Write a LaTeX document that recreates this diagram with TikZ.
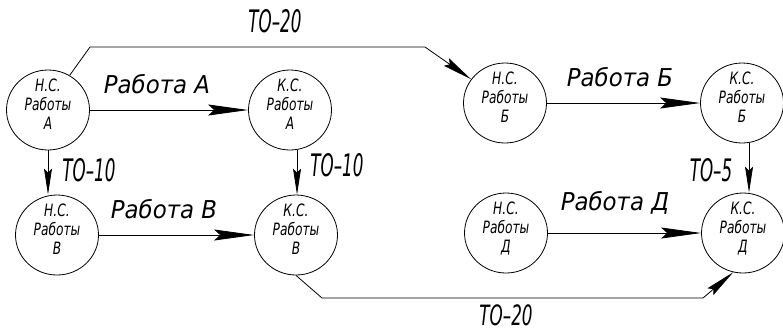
\documentclass[tikz,border=0pt]{standalone}
\usepackage{fontspec}
\setmainfont{DejaVu Sans}
\usetikzlibrary{arrows.meta,shapes.geometric,calc}
\newcommand\intext[3]{\scalebox{0.72}[1]{\fontsize{17}{19}\selectfont\itshape\begin{tabular}{@{}c@{}}#1\\#2\\#3\end{tabular}}}
\newcommand\wlab[1]{\scalebox{0.93}[1]{\fontsize{24.6}{26}\selectfont\itshape #1}}
\newcommand\tlab[1]{\scalebox{0.54}[1]{\fontsize{31}{33}\selectfont\itshape #1}}
\newcommand\tlabs[1]{\scalebox{0.6}[1]{\fontsize{28}{30}\selectfont\itshape #1}}
\begin{document}
\begin{tikzpicture}[x=1pt,y=-1pt,
  st/.style={draw, line width=0.8pt, ellipse, minimum width=83pt, minimum height=80pt, inner sep=0pt},
  conn/.style={line width=0.8pt},
  harr/.style={conn, -{Stealth[length=40pt,width=11pt,inset=6pt]}},
  varr/.style={conn, -{Stealth[length=26pt,width=8pt,inset=4pt]}},
  darr/.style={conn, -{Stealth[length=30pt,width=9pt,inset=4pt]}},
  lab/.style={inner sep=0pt},
  txt/.style={label={[yshift=3pt]center:#1}}]
\useasboundingbox (0,0) rectangle (783,333);

\node[st, txt={\intext{Н.С.}{Работы}{А}}] (nsA) at (48,110) {};
\node[st, txt={\intext{К.С.}{Работы}{А}}] (ksA) at (290,110) {};
\node[st, txt={\intext{Н.С.}{Работы}{Б}}] (nsB) at (505,103) {};
\node[st, txt={\intext{К.С.}{Работы}{Б}}] (ksB) at (742,103) {};
\node[st, txt={\intext{Н.С.}{Работы}{В}}] (nsV) at (57,235) {};
\node[st, txt={\intext{К.С.}{Работы}{В}}] (ksV) at (296,235) {};
\node[st, txt={\intext{Н.С.}{Работы}{Д}}] (nsD) at (506,233) {};
\node[st, txt={\intext{К.С.}{Работы}{Д}}] (ksD) at (743,233) {};

\coordinate (t1) at (90,47);
\coordinate (t2) at (425,47);
\coordinate (b1) at (322,298);
\coordinate (b2) at (703,298);

\draw[harr] (nsA) -- (ksA);
\draw[harr] (nsB) -- (ksB);
\draw[harr] (nsV) -- (ksV);
\draw[harr] (nsD) -- (ksD);
\draw[varr] (nsA.south) -- (nsA.south |- nsV.north);
\draw[varr] (ksA.280) -- (ksA.280 |- ksV.north);
\draw[varr] (ksB.280) -- (ksB.280 |- ksD.north);
\draw[darr] (nsA.58) -- (t1) -- (t2) -- (nsB.145);
\draw[darr] (ksV.270) -- (b1) -- (b2) -- (ksD.256);

\node[lab] (l1) at (275,21.5) {\tlab{ТО–20}};
\node[lab] (l2) at (157,84) {\wlab{Работа А}};
\node[lab] (l3) at (89,170) {\tlab{ТО–10}};
\node[lab] (l4) at (337,165) {\tlab{ТО–10}};
\node[lab] (l5) at (164,209) {\wlab{Работа В}};
\node[lab] (l6) at (620,77) {\wlab{Работа Б}};
\node[lab] (l7) at (711,170) {\tlab{ТО–5}};
\node[lab] (l8) at (615,203) {\wlab{Работа Д}};
\node[lab] (l9) at (506,315) {\tlabs{ТО–20}};
\end{tikzpicture}
\end{document}
